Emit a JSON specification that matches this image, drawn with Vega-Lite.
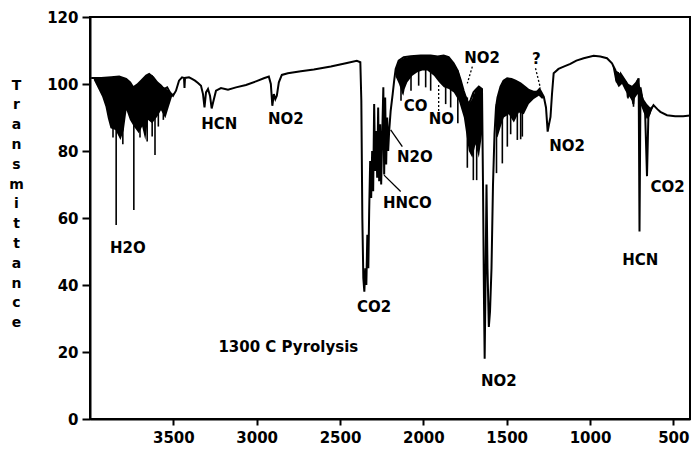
{
  "$schema": "https://vega.github.io/schema/vega-lite/v6.json",
  "width": 600,
  "height": 402,
  "autosize": "none",
  "padding": {"left": 90, "top": 17, "right": 5, "bottom": 34},
  "background": "white",
  "config": {
    "view": {"stroke": "black", "strokeWidth": 2},
    "axis": {
      "grid": false,
      "domainColor": "black",
      "domainWidth": 2,
      "tickColor": "black",
      "tickWidth": 2,
      "labelColor": "black",
      "labelFont": "DejaVu Sans",
      "labelFontSize": 15,
      "labelFontWeight": "bold",
      "labelFlush": false,
      "labelOverlap": false,
      "titleColor": "black",
      "titleFont": "DejaVu Sans",
      "titleFontWeight": "bold"
    },
    "text": {"font": "DejaVu Sans", "fontSize": 15, "fontWeight": "bold", "color": "black"}
  },
  "datasets": {
    "trace": [
      {"w": 3993, "t": 101.8}, {"w": 3933, "t": 101.8}, {"w": 3873, "t": 102}, {"w": 3825, "t": 102.2},
      {"w": 3783, "t": 101.5}, {"w": 3759, "t": 100.5}, {"w": 3741, "t": 99}, {"w": 3717, "t": 99.8},
      {"w": 3693, "t": 101}, {"w": 3663, "t": 102.5}, {"w": 3645, "t": 103}, {"w": 3621, "t": 102},
      {"w": 3597, "t": 100.5}, {"w": 3573, "t": 99.5}, {"w": 3556, "t": 98.5}, {"w": 3537, "t": 99},
      {"w": 3520, "t": 97.5}, {"w": 3502, "t": 96.5}, {"w": 3484, "t": 98}, {"w": 3466, "t": 101},
      {"w": 3448, "t": 102}, {"w": 3436, "t": 101.8}, {"w": 3433, "t": 98.8}, {"w": 3430, "t": 101.8},
      {"w": 3406, "t": 102}, {"w": 3388, "t": 101.5}, {"w": 3370, "t": 101}, {"w": 3352, "t": 100.3},
      {"w": 3334, "t": 99.5}, {"w": 3322, "t": 97}, {"w": 3313, "t": 93}, {"w": 3304, "t": 97.5},
      {"w": 3292, "t": 98.5}, {"w": 3280, "t": 96.5}, {"w": 3270, "t": 92.7}, {"w": 3259, "t": 95},
      {"w": 3244, "t": 98}, {"w": 3214, "t": 98.8}, {"w": 3172, "t": 98.3}, {"w": 3124, "t": 99},
      {"w": 3064, "t": 99.7}, {"w": 3004, "t": 100.8}, {"w": 2957, "t": 101.7}, {"w": 2927, "t": 102.2},
      {"w": 2915, "t": 100}, {"w": 2906, "t": 93.5}, {"w": 2897, "t": 97}, {"w": 2888, "t": 95.5},
      {"w": 2879, "t": 96.5}, {"w": 2867, "t": 100.5}, {"w": 2849, "t": 102.7}, {"w": 2813, "t": 103.2},
      {"w": 2735, "t": 103.8}, {"w": 2657, "t": 104.3}, {"w": 2555, "t": 105.2}, {"w": 2465, "t": 106.2},
      {"w": 2399, "t": 106.9}, {"w": 2378, "t": 106.5}, {"w": 2372, "t": 95}, {"w": 2366, "t": 60},
      {"w": 2360, "t": 42}, {"w": 2354, "t": 38}, {"w": 2348, "t": 45}, {"w": 2342, "t": 40},
      {"w": 2336, "t": 55}, {"w": 2330, "t": 45}, {"w": 2325, "t": 62}, {"w": 2319, "t": 77},
      {"w": 2313, "t": 66}, {"w": 2307, "t": 80}, {"w": 2301, "t": 68}, {"w": 2295, "t": 94},
      {"w": 2289, "t": 74}, {"w": 2283, "t": 86}, {"w": 2277, "t": 72}, {"w": 2271, "t": 93},
      {"w": 2265, "t": 71}, {"w": 2259, "t": 88}, {"w": 2253, "t": 70}, {"w": 2247, "t": 84},
      {"w": 2240, "t": 99}, {"w": 2235, "t": 73}, {"w": 2229, "t": 96}, {"w": 2223, "t": 76},
      {"w": 2217, "t": 90}, {"w": 2211, "t": 80}, {"w": 2205, "t": 86}, {"w": 2196, "t": 92},
      {"w": 2184, "t": 97}, {"w": 2175, "t": 101}, {"w": 2166, "t": 104.5}, {"w": 2148, "t": 107},
      {"w": 2118, "t": 108}, {"w": 2076, "t": 108.3}, {"w": 2016, "t": 108.5}, {"w": 1956, "t": 108.5},
      {"w": 1914, "t": 108.2}, {"w": 1878, "t": 108.5}, {"w": 1848, "t": 108}, {"w": 1818, "t": 106.2},
      {"w": 1794, "t": 104}, {"w": 1776, "t": 101.2}, {"w": 1758, "t": 98}, {"w": 1746, "t": 96.2},
      {"w": 1729, "t": 94}, {"w": 1717, "t": 95.2}, {"w": 1699, "t": 97.5}, {"w": 1687, "t": 98.2},
      {"w": 1667, "t": 99.2}, {"w": 1648, "t": 98.5}, {"w": 1642, "t": 70}, {"w": 1636, "t": 35},
      {"w": 1632, "t": 18}, {"w": 1627, "t": 40}, {"w": 1621, "t": 70}, {"w": 1615, "t": 45},
      {"w": 1607, "t": 27.5}, {"w": 1600, "t": 32}, {"w": 1591, "t": 45}, {"w": 1582, "t": 70},
      {"w": 1573, "t": 85}, {"w": 1564, "t": 93}, {"w": 1555, "t": 96}, {"w": 1537, "t": 99.2},
      {"w": 1519, "t": 101}, {"w": 1497, "t": 101.7}, {"w": 1471, "t": 101.5}, {"w": 1447, "t": 101},
      {"w": 1417, "t": 100.2}, {"w": 1387, "t": 99}, {"w": 1367, "t": 98.2}, {"w": 1339, "t": 97.7},
      {"w": 1317, "t": 97.7}, {"w": 1303, "t": 98.5}, {"w": 1291, "t": 97.5}, {"w": 1277, "t": 96.2},
      {"w": 1264, "t": 93}, {"w": 1254, "t": 85.8}, {"w": 1246, "t": 88}, {"w": 1237, "t": 90.2},
      {"w": 1228, "t": 97}, {"w": 1218, "t": 103.2}, {"w": 1189, "t": 104.5}, {"w": 1158, "t": 105.2},
      {"w": 1118, "t": 106}, {"w": 1082, "t": 107}, {"w": 1038, "t": 107.7}, {"w": 978, "t": 108.4},
      {"w": 938, "t": 108.2}, {"w": 898, "t": 107.7}, {"w": 868, "t": 106.2}, {"w": 848, "t": 104.2},
      {"w": 839, "t": 100.5}, {"w": 833, "t": 103.5}, {"w": 821, "t": 101}, {"w": 815, "t": 103},
      {"w": 798, "t": 101.7}, {"w": 782, "t": 100.5}, {"w": 773, "t": 96}, {"w": 764, "t": 99.5},
      {"w": 752, "t": 97.5}, {"w": 740, "t": 94}, {"w": 731, "t": 99}, {"w": 722, "t": 100},
      {"w": 708, "t": 101.7}, {"w": 703, "t": 56}, {"w": 697, "t": 99}, {"w": 687, "t": 96},
      {"w": 678, "t": 94}, {"w": 669, "t": 91}, {"w": 658, "t": 72.5}, {"w": 650, "t": 90},
      {"w": 638, "t": 92}, {"w": 619, "t": 93.7}, {"w": 596, "t": 92.5}, {"w": 578, "t": 91.7},
      {"w": 538, "t": 90.7}, {"w": 489, "t": 90.4}, {"w": 441, "t": 90.4}, {"w": 400, "t": 90.6}
    ],
    "bands": [
      {"band": "water", "w": 3977, "lo": 101.2, "hi": 101.8}, {"band": "water", "w": 3947, "lo": 98.2, "hi": 101.8},
      {"band": "water", "w": 3927, "lo": 96.2, "hi": 101.8}, {"band": "water", "w": 3907, "lo": 93.2, "hi": 101.9},
      {"band": "water", "w": 3893, "lo": 89.8, "hi": 101.9}, {"band": "water", "w": 3877, "lo": 86.8, "hi": 102},
      {"band": "water", "w": 3847, "lo": 86.3, "hi": 102.1}, {"band": "water", "w": 3817, "lo": 83.3, "hi": 102.2},
      {"band": "water", "w": 3797, "lo": 86.3, "hi": 101.8}, {"band": "water", "w": 3781, "lo": 92.2, "hi": 101.4},
      {"band": "water", "w": 3761, "lo": 89.3, "hi": 100.6}, {"band": "water", "w": 3737, "lo": 87.3, "hi": 99.1},
      {"band": "water", "w": 3707, "lo": 85.3, "hi": 100.2}, {"band": "water", "w": 3687, "lo": 87.3, "hi": 101.2},
      {"band": "water", "w": 3668, "lo": 83.3, "hi": 102.3}, {"band": "water", "w": 3653, "lo": 89.3, "hi": 102.8},
      {"band": "water", "w": 3627, "lo": 88.3, "hi": 102.7}, {"band": "water", "w": 3597, "lo": 90.2, "hi": 100.5},
      {"band": "water", "w": 3574, "lo": 92.2, "hi": 99.5}, {"band": "water", "w": 3548, "lo": 89.8, "hi": 98.8},
      {"band": "water", "w": 3527, "lo": 93.2, "hi": 98}, {"band": "water", "w": 3508, "lo": 96.2, "hi": 97},
      {"band": "water", "w": 3494, "lo": 97.3, "hi": 97.3},
      {"band": "co", "w": 2166, "lo": 102.2, "hi": 104.5}, {"band": "co", "w": 2146, "lo": 100, "hi": 107},
      {"band": "co", "w": 2126, "lo": 97, "hi": 107.5}, {"band": "co", "w": 2120, "lo": 96.5, "hi": 107.7},
      {"band": "co", "w": 2112, "lo": 98.5, "hi": 107.8}, {"band": "co", "w": 2096, "lo": 100.5, "hi": 108},
      {"band": "co", "w": 2066, "lo": 102.5, "hi": 108.3}, {"band": "co", "w": 2036, "lo": 103.5, "hi": 108.4},
      {"band": "co", "w": 2006, "lo": 104, "hi": 108.5}, {"band": "co", "w": 1976, "lo": 104, "hi": 108.5},
      {"band": "co", "w": 1936, "lo": 102.5, "hi": 108.4}, {"band": "co", "w": 1906, "lo": 100.5, "hi": 108.3},
      {"band": "co", "w": 1877, "lo": 99, "hi": 108.5}, {"band": "co", "w": 1847, "lo": 98.5, "hi": 108},
      {"band": "co", "w": 1817, "lo": 97.5, "hi": 106.2}, {"band": "co", "w": 1787, "lo": 95, "hi": 103.5},
      {"band": "co", "w": 1757, "lo": 90, "hi": 98}, {"band": "co", "w": 1727, "lo": 80, "hi": 94},
      {"band": "co", "w": 1706, "lo": 78, "hi": 95.6}, {"band": "co", "w": 1687, "lo": 82, "hi": 98.2},
      {"band": "co", "w": 1667, "lo": 78, "hi": 99.2}, {"band": "co", "w": 1648, "lo": 85, "hi": 98.5},
      {"band": "no2", "w": 1564, "lo": 85, "hi": 93}, {"band": "no2", "w": 1555, "lo": 84, "hi": 96},
      {"band": "no2", "w": 1537, "lo": 87, "hi": 99.2}, {"band": "no2", "w": 1517, "lo": 90, "hi": 101},
      {"band": "no2", "w": 1487, "lo": 91, "hi": 101.7}, {"band": "no2", "w": 1457, "lo": 88.5, "hi": 101.3},
      {"band": "no2", "w": 1427, "lo": 91.5, "hi": 100.5}, {"band": "no2", "w": 1397, "lo": 91, "hi": 99.3},
      {"band": "no2", "w": 1367, "lo": 94, "hi": 98.2}, {"band": "no2", "w": 1337, "lo": 95.5, "hi": 97.7},
      {"band": "no2", "w": 1307, "lo": 96.5, "hi": 98.2}, {"band": "no2", "w": 1287, "lo": 95.5, "hi": 97.3},
      {"band": "no2", "w": 1277, "lo": 96.2, "hi": 96.2},
      {"band": "hcn", "w": 868, "lo": 106.2, "hi": 106.2}, {"band": "hcn", "w": 848, "lo": 101, "hi": 104.2},
      {"band": "hcn", "w": 828, "lo": 99, "hi": 103.5}, {"band": "hcn", "w": 808, "lo": 100, "hi": 102.5},
      {"band": "hcn", "w": 788, "lo": 98, "hi": 101.2}, {"band": "hcn", "w": 768, "lo": 96.5, "hi": 100},
      {"band": "hcn", "w": 748, "lo": 95, "hi": 99.5}, {"band": "hcn", "w": 728, "lo": 96, "hi": 100.5},
      {"band": "hcn", "w": 714, "lo": 97, "hi": 101.7}, {"band": "hcn", "w": 698, "lo": 94, "hi": 99},
      {"band": "hcn", "w": 678, "lo": 91.5, "hi": 95.5}, {"band": "hcn", "w": 658, "lo": 89.5, "hi": 94},
      {"band": "hcn", "w": 638, "lo": 91, "hi": 93}, {"band": "hcn", "w": 619, "lo": 93.5, "hi": 93.7}
    ],
    "spikes": [
      {"w": 3862, "top": 102, "bot": 84}, {"w": 3843, "top": 101.5, "bot": 57.9}, {"w": 3803, "top": 102, "bot": 82},
      {"w": 3737, "top": 99, "bot": 62.4}, {"w": 3700, "top": 100, "bot": 84}, {"w": 3657, "top": 102.5, "bot": 82.8},
      {"w": 3627, "top": 102.5, "bot": 84.3}, {"w": 3610, "top": 101.5, "bot": 78.8}, {"w": 3590, "top": 100, "bot": 87.3},
      {"w": 3560, "top": 99, "bot": 89.3},
      {"w": 2134, "top": 107, "bot": 95}, {"w": 2074, "top": 108.3, "bot": 98}, {"w": 2028, "top": 108.4, "bot": 99.5},
      {"w": 1986, "top": 108.5, "bot": 99}, {"w": 1956, "top": 108.5, "bot": 98}, {"w": 1866, "top": 108, "bot": 94},
      {"w": 1836, "top": 107, "bot": 93}, {"w": 1793, "top": 104, "bot": 88.3},
      {"w": 1736, "top": 96, "bot": 75}, {"w": 1700, "top": 97, "bot": 71.3}, {"w": 1680, "top": 98, "bot": 71.3},
      {"w": 1561, "top": 94, "bot": 73.4}, {"w": 1526, "top": 100, "bot": 76.3}, {"w": 1496, "top": 101.7, "bot": 81.3},
      {"w": 1476, "top": 101.5, "bot": 85}, {"w": 1436, "top": 100.7, "bot": 83.3}, {"w": 1416, "top": 100, "bot": 83.5},
      {"w": 1406, "top": 99.8, "bot": 84.3},
      {"w": 772, "top": 100, "bot": 95.7}, {"w": 739, "top": 99.5, "bot": 93.2}
    ],
    "pointers": [
      {"label": "N2O", "w": 2196, "t": 86.3, "w2": 2126, "t2": 81.3},
      {"label": "HNCO", "w": 2236, "t": 72.8, "w2": 2136, "t2": 67.9},
      {"label": "NO", "w": 1908, "t": 99.7, "w2": 1908, "t2": 91.6},
      {"label": "NO2", "w": 1706, "t": 105.2, "w2": 1736, "t2": 100.2},
      {"label": "?", "w": 1327, "t": 104.7, "w2": 1297, "t2": 98.7}
    ],
    "labels": [
      {"text": "H2O", "w": 3773, "t": 51},
      {"text": "HCN", "w": 3224, "t": 88.1},
      {"text": "NO2", "w": 2825, "t": 89.6},
      {"text": "CO2", "w": 2296, "t": 33.3},
      {"text": "1300 C Pyrolysis", "w": 2810, "t": 21.6},
      {"text": "NO2", "w": 1547, "t": 11.3},
      {"text": "HCN", "w": 698, "t": 47.5},
      {"text": "N2O", "w": 2051, "t": 78.3},
      {"text": "HNCO", "w": 2096, "t": 64.6},
      {"text": "CO", "w": 2046, "t": 93.5},
      {"text": "NO", "w": 1892, "t": 89.5},
      {"text": "NO2", "w": 1647, "t": 107.9},
      {"text": "?", "w": 1322, "t": 107.4},
      {"text": "NO2", "w": 1137, "t": 81.6},
      {"text": "CO2", "w": 534, "t": 69.3}
    ]
  },
  "layer": [
    {
      "data": {"name": "bands"},
      "mark": {"type": "area", "color": "black", "opacity": 1},
      "encoding": {
        "x": {
          "field": "w", "type": "quantitative",
          "scale": {"domain": [4000, 400], "nice": false, "zero": false},
          "axis": {"title": null, "values": [3500, 3000, 2500, 2000, 1500, 1000, 500], "format": "d", "tickSize": 6, "labelPadding": 5}
        },
        "y": {
          "field": "lo", "type": "quantitative",
          "scale": {"domain": [0, 120], "nice": false, "zero": false},
          "axis": {
            "values": [0, 20, 40, 60, 80, 100, 120], "tickSize": 8, "labelPadding": 4,
            "title": ["T", "r", "a", "n", "s", "m", "i", "t", "t", "a", "n", "c", "e"],
            "titleAngle": 0, "titleFontSize": 14, "titleLineHeight": 19.8,
            "titleAlign": "center", "titleBaseline": "top", "titleX": -74, "titleY": 61
          }
        },
        "y2": {"field": "hi"},
        "detail": {"field": "band"}
      }
    },
    {
      "data": {"name": "trace"},
      "mark": {"type": "line", "color": "black", "strokeWidth": 2},
      "encoding": {
        "x": {"field": "w", "type": "quantitative"},
        "y": {"field": "t", "type": "quantitative"}
      }
    },
    {
      "data": {"name": "spikes"},
      "mark": {"type": "rule", "color": "black", "strokeWidth": 1.6},
      "encoding": {
        "x": {"field": "w", "type": "quantitative"},
        "y": {"field": "top", "type": "quantitative"},
        "y2": {"field": "bot"}
      }
    },
    {
      "data": {"name": "pointers"},
      "transform": [{"filter": {"field": "label", "oneOf": ["N2O", "HNCO"]}}],
      "mark": {"type": "rule", "color": "black", "strokeWidth": 1.3},
      "encoding": {
        "x": {"field": "w", "type": "quantitative"},
        "x2": {"field": "w2"},
        "y": {"field": "t", "type": "quantitative"},
        "y2": {"field": "t2"}
      }
    },
    {
      "data": {"name": "pointers"},
      "transform": [{"filter": {"field": "label", "oneOf": ["NO", "NO2", "?"]}}],
      "mark": {"type": "rule", "color": "black", "strokeWidth": 1.3, "strokeDash": [2, 2]},
      "encoding": {
        "x": {"field": "w", "type": "quantitative"},
        "x2": {"field": "w2"},
        "y": {"field": "t", "type": "quantitative"},
        "y2": {"field": "t2"}
      }
    },
    {
      "data": {"name": "labels"},
      "mark": {"type": "text", "align": "center", "baseline": "middle"},
      "encoding": {
        "x": {"field": "w", "type": "quantitative"},
        "y": {"field": "t", "type": "quantitative"},
        "text": {"field": "text"}
      }
    }
  ]
}
